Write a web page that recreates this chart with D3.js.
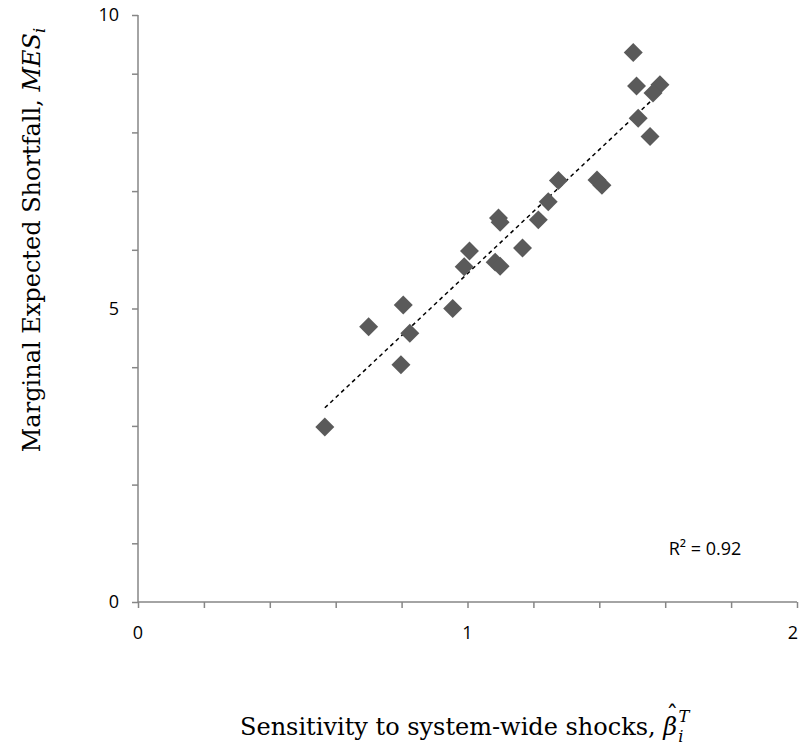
<!DOCTYPE html>
<html>
<head>
<meta charset="utf-8">
<script src="https://cdn.jsdelivr.net/npm/d3@7"></script>
<style>
  html, body { margin: 0; padding: 0; background: #fff; }
  svg { display: block; }
</style>
</head>
<body>
<svg id="chart" width="800" height="753"></svg>
<script>
// ---- data ----
const sensitivity = [0.567, 0.700, 0.805, 0.825, 0.798, 0.955, 0.990, 1.006, 1.084, 1.099, 1.094, 1.099,
                     1.167, 1.215, 1.245, 1.276, 1.393, 1.408, 1.503, 1.513, 1.584, 1.563, 1.518, 1.554];
const mes = [2.98, 4.69, 5.06, 4.58, 4.04, 5.00, 5.71, 5.98, 5.79, 5.72, 6.54, 6.47,
             6.03, 6.51, 6.82, 7.18, 7.19, 7.10, 9.36, 8.79, 8.81, 8.67, 8.24, 7.93];
const xTickLabels = [0, 1, 2];
const yTickLabels = [0, 5, 10];
const r2Label = "R² = 0.92";

// ---- layout ----
const svg = d3.select("#chart");
const x = d3.scaleLinear().domain([0, 2]).range([138, 797]);
const y = d3.scaleLinear().domain([0, 10]).range([602, 15]);
const axisColor = "#868686";
const labelFont = "'Open Sans', 'Noto Sans', sans-serif";
const titleFont = "'DejaVu Serif', 'Liberation Serif', serif";
const titleSize = 24;
const subSize = titleSize * 0.68;

// minor ticks
const xAxis = d3.axisBottom(x).tickValues(d3.range(0, 2.0001, 0.2)).tickSize(6).tickFormat("");
const yAxis = d3.axisLeft(y).tickValues(d3.range(0, 10.001, 1)).tickSize(6).tickFormat("");

const gx = svg.append("g").attr("transform", `translate(0,${y(0)})`).call(xAxis);
const gy = svg.append("g").attr("transform", `translate(${x(0)},0)`).call(yAxis);
[gx, gy].forEach(g => {
  g.selectAll("path, line").attr("stroke", axisColor).attr("stroke-width", 1.5);
  g.select(".domain").attr("d", g === gx ? `M${x(0)},0H${x(2)}` : `M0,${y(0)}V${y(10)}`);
});

// tick labels
svg.append("g").selectAll("text").data(xTickLabels).join("text")
  .attr("x", d => Math.min(x(d), 793)).attr("y", y(0) + 37)
  .attr("text-anchor", "middle")
  .style("font-family", labelFont).style("font-size", "18px").attr("fill", "#000")
  .text(d => d);
svg.append("g").selectAll("text").data(yTickLabels).join("text")
  .attr("x", x(0) - 19).attr("y", d => y(d) + 6)
  .attr("text-anchor", "end")
  .style("font-family", labelFont).style("font-size", "18px").attr("fill", "#000")
  .text(d => d);

// trend line (least squares)
const n = sensitivity.length;
const mx = d3.mean(sensitivity), my = d3.mean(mes);
let sxy = 0, sxx = 0;
for (let i = 0; i < n; i++) { sxy += (sensitivity[i]-mx)*(mes[i]-my); sxx += (sensitivity[i]-mx)**2; }
const slope = sxy / sxx, intercept = my - slope * mx;
const xmin = d3.min(sensitivity), xmax = d3.max(sensitivity);
svg.append("line")
  .attr("x1", x(xmin)).attr("y1", y(intercept + slope * xmin))
  .attr("x2", x(xmax)).attr("y2", y(intercept + slope * xmax))
  .attr("stroke", "#000").attr("stroke-width", 1.5).attr("stroke-dasharray", "4,3.5");

// points (diamonds)
const diamond = d3.symbol().type(d3.symbolSquare).size(180);
svg.append("g").selectAll("path").data(sensitivity.map((s, i) => [s, mes[i]])).join("path")
  .attr("d", diamond)
  .attr("transform", d => `translate(${x(d[0])},${y(d[1])}) rotate(45)`)
  .attr("fill", "#5a5a5a");

// R^2 label
svg.append("text").attr("x", 705).attr("y", 555).attr("text-anchor", "middle")
  .style("font-family", labelFont).style("font-size", "18px").attr("fill", "#000")
  .text(r2Label);

// x title (single text element; hat placed over beta with relative offsets)
const xt = svg.append("text").attr("x", 240).attr("y", 735)
  .style("font-family", titleFont).style("font-size", titleSize + "px").attr("fill", "#000");
xt.append("tspan").text("Sensitivity to system-wide shocks, ");
const beta = xt.append("tspan").style("font-style", "italic").text("β");
const hat = xt.append("tspan").text("ˆ");
const bw = beta.node().getComputedTextLength();
const hw = hat.node().getComputedTextLength();
const shift = 2, hatRise = 12;
hat.attr("dx", -bw / 2 - hw / 2 + shift).attr("dy", -hatRise);
xt.append("tspan").attr("dx", bw / 2 - hw / 2 - shift + 1).attr("dy", hatRise + 7)
  .style("font-size", subSize + "px").style("font-style", "italic").text("i");
xt.append("tspan").attr("dx", -5).attr("dy", -20)
  .style("font-size", subSize + "px").style("font-style", "italic").text("T");

// y title
const yt = svg.append("text")
  .attr("transform", `translate(40,240) rotate(-90)`)
  .attr("text-anchor", "middle")
  .style("font-family", titleFont).style("font-size", titleSize + "px").attr("fill", "#000");
yt.append("tspan").text("Marginal Expected Shortfall, ");
yt.append("tspan").style("font-style", "italic").text("MES");
yt.append("tspan").attr("dy", 5).style("font-size", subSize + "px").style("font-style", "italic").text("i");
</script>
</body>
</html>
